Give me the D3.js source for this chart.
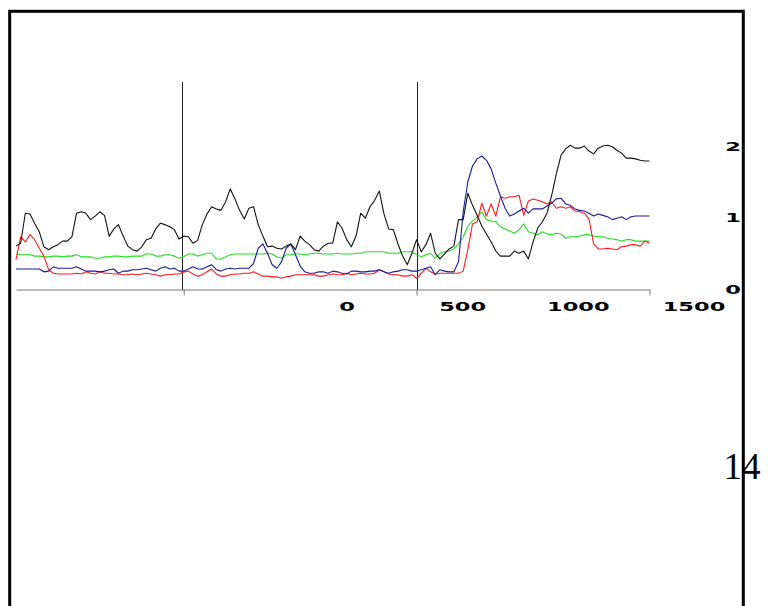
<!DOCTYPE html>
<html>
<head>
<meta charset="utf-8">
<script src="https://cdn.jsdelivr.net/npm/d3@7/dist/d3.min.js"></script>
<style>
  html, body { margin: 0; padding: 0; background: #fff; }
  svg { display: block; }
</style>
</head>
<body>
<svg id="chart" width="768" height="606"></svg>
<script>
// ---- data ----
const xStart = 140, xStep = 10;           // sample grid (time units)
const blackSeries = [0.60,0.64,1.06,1.05,0.92,0.80,0.59,0.55,0.59,0.62,0.67,0.67,0.73,1.06,1.08,1.06,0.97,1.02,1.08,1.03,
  0.74,0.84,0.90,0.74,0.60,0.55,0.53,0.59,0.69,0.71,0.84,0.92,0.90,0.87,0.83,0.70,0.74,0.73,0.64,0.68,
  0.90,1.05,1.15,1.12,1.10,1.22,1.40,1.26,1.10,0.98,1.13,1.15,0.90,0.74,0.59,0.60,0.57,0.56,0.60,0.63,
  0.55,0.74,0.67,0.62,0.55,0.53,0.60,0.64,0.64,0.94,0.85,0.69,0.59,0.74,1.06,0.99,1.15,1.24,1.37,1.05,
  0.84,0.83,0.63,0.46,0.34,0.50,0.69,0.52,0.62,0.78,0.50,0.42,0.49,0.56,0.60,0.97,0.97,1.34,1.17,1.03,
  0.88,0.77,0.66,0.53,0.46,0.46,0.46,0.53,0.50,0.53,0.42,0.66,0.85,0.94,1.06,1.31,1.61,1.87,1.96,2.01,
  1.97,1.97,2.00,1.93,1.89,1.97,2.00,2.01,1.99,1.94,1.90,1.83,1.83,1.82,1.80,1.79,1.79];
const redSeries = [0.41,0.73,0.66,0.76,0.69,0.57,0.46,0.27,0.22,0.21,0.21,0.21,0.21,0.22,0.21,0.24,0.22,0.21,0.24,0.22,
  0.22,0.21,0.21,0.20,0.20,0.21,0.20,0.21,0.22,0.21,0.20,0.18,0.20,0.20,0.21,0.21,0.24,0.25,0.21,0.18,
  0.20,0.24,0.28,0.21,0.18,0.18,0.20,0.21,0.21,0.22,0.22,0.24,0.21,0.18,0.18,0.17,0.17,0.15,0.17,0.18,
  0.20,0.20,0.20,0.20,0.20,0.18,0.18,0.20,0.21,0.20,0.20,0.22,0.20,0.21,0.22,0.21,0.21,0.22,0.27,0.24,
  0.21,0.20,0.20,0.18,0.18,0.20,0.15,0.22,0.29,0.24,0.21,0.22,0.22,0.22,0.22,0.22,0.25,0.55,0.91,0.94,
  1.20,1.02,1.19,1.02,1.29,1.27,1.29,1.29,1.31,1.03,1.23,1.26,1.24,1.22,1.19,1.22,1.13,1.15,1.13,1.15,
  1.09,1.08,1.06,0.98,0.63,0.56,0.56,0.57,0.56,0.55,0.59,0.60,0.62,0.62,0.60,0.67,0.64];
const blueSeries = [0.28,0.28,0.28,0.28,0.28,0.28,0.24,0.25,0.31,0.29,0.29,0.29,0.29,0.31,0.28,0.25,0.25,0.25,0.24,0.25,
  0.27,0.28,0.22,0.25,0.25,0.27,0.27,0.28,0.29,0.27,0.25,0.29,0.31,0.28,0.29,0.25,0.25,0.28,0.31,0.28,
  0.28,0.31,0.34,0.27,0.25,0.28,0.29,0.28,0.29,0.29,0.29,0.36,0.57,0.63,0.50,0.34,0.29,0.38,0.57,0.63,
  0.48,0.32,0.24,0.22,0.22,0.24,0.24,0.22,0.25,0.24,0.22,0.21,0.25,0.25,0.24,0.24,0.25,0.25,0.27,0.24,
  0.22,0.24,0.25,0.27,0.27,0.25,0.25,0.27,0.29,0.31,0.20,0.27,0.25,0.24,0.24,0.38,1.08,1.50,1.72,1.82,
  1.86,1.80,1.68,1.48,1.30,1.13,1.02,1.05,1.09,1.13,1.06,1.12,1.12,1.12,1.16,1.20,1.26,1.27,1.19,1.17,
  1.12,1.10,1.09,1.06,1.02,1.05,1.03,1.01,0.97,0.99,1.01,0.97,1.01,1.02,1.02,1.02,1.02];
const greenSeries = [0.49,0.48,0.48,0.48,0.46,0.46,0.45,0.45,0.46,0.46,0.45,0.46,0.46,0.48,0.45,0.45,0.45,0.43,0.43,0.45,
  0.45,0.46,0.46,0.45,0.45,0.46,0.46,0.46,0.49,0.49,0.46,0.46,0.48,0.48,0.46,0.43,0.45,0.49,0.49,0.46,
  0.48,0.50,0.50,0.42,0.42,0.45,0.48,0.49,0.49,0.49,0.49,0.49,0.49,0.49,0.50,0.49,0.45,0.43,0.48,0.48,
  0.49,0.49,0.48,0.49,0.50,0.50,0.49,0.49,0.49,0.50,0.49,0.49,0.49,0.50,0.50,0.52,0.52,0.52,0.52,0.52,
  0.50,0.50,0.50,0.52,0.52,0.52,0.48,0.45,0.48,0.50,0.43,0.50,0.52,0.53,0.56,0.63,0.73,0.88,0.95,1.01,
  1.08,0.97,0.95,0.94,0.87,0.84,0.81,0.78,0.83,0.91,0.80,0.78,0.76,0.80,0.77,0.76,0.78,0.77,0.71,0.73,
  0.73,0.74,0.76,0.76,0.74,0.73,0.73,0.71,0.70,0.69,0.67,0.69,0.69,0.67,0.67,0.67,0.67];
const xTickValues = [500, 1000, 1500];
const markerValues = [497, 1000];
const xTickLabels = ["0", "500", "1000", "1500"];
const yTickValues = [0, 1, 2];
const pageNumber = "14";

// ---- drawing ----
const svg = d3.select("#chart");
const x = d3.scaleLinear().domain([140, 1500]).range([16, 649.5]);
const y = d3.scaleLinear().domain([0, 2]).range([289, 146]);
const labelX = d3.scaleLinear().domain([0, 1500]).range([347, 694]);

const xs = blackSeries.map((_, i) => xStart + i * xStep);

// page number (under the frame)
svg.append("text")
  .attr("x", 723.5).attr("y", 478.5)
  .attr("font-family", "'Liberation Serif', 'Times New Roman', serif")
  .attr("font-size", 37).attr("fill", "#000")
  .text(pageNumber);

// vertical marker lines
svg.selectAll("line.marker").data(markerValues).enter().append("line")
  .attr("class", "marker")
  .attr("x1", d => Math.round(x(d)) + 0.5).attr("x2", d => Math.round(x(d)) + 0.5)
  .attr("y1", 82).attr("y2", 290)
  .attr("stroke", "#222").attr("stroke-width", 1);

// x axis
const xAxis = d3.axisBottom(x).tickValues(xTickValues).tickSize(6).tickSizeOuter(0).tickFormat("");
const gx = svg.append("g").attr("transform", "translate(0,289.5)").call(xAxis);
gx.select(".domain").attr("stroke", "#777");
gx.selectAll(".tick line").attr("stroke", "#777");

// series
const line = d3.line().x((d, i) => x(xs[i])).y(d => y(d)).curve(d3.curveLinear);
const series = [
  { values: greenSeries, color: "#1fe01f" },
  { values: redSeries, color: "#ff1a1a" },
  { values: blueSeries, color: "#1a1a96" },
  { values: blackSeries, color: "#111" }
];
svg.selectAll("path.series").data(series).enter().append("path")
  .attr("class", "series")
  .attr("d", d => line(d.values))
  .attr("fill", "none")
  .attr("stroke", d => d.color)
  .attr("stroke-width", 1.1)
  .attr("stroke-linejoin", "round");

// x tick labels (wide bold)
svg.selectAll("text.xl").data(xTickLabels).enter().append("text")
  .attr("class", "xl")
  .attr("transform", d => `translate(${labelX(+d)},311) scale(1.8,1)`)
  .attr("text-anchor", "middle")
  .attr("font-family", "'DejaVu Sans', sans-serif")
  .attr("font-weight", "bold")
  .attr("font-size", 12.5)
  .attr("fill", "#000")
  .text(d => d);

// y tick labels
svg.selectAll("text.yl").data(yTickValues).enter().append("text")
  .attr("class", "yl")
  .attr("transform", d => `translate(733,${y(d) + 4.5}) scale(1.8,1)`)
  .attr("text-anchor", "middle")
  .attr("font-family", "'DejaVu Sans', sans-serif")
  .attr("font-weight", "bold")
  .attr("font-size", 12.5)
  .attr("fill", "#000")
  .text(d => d);

// frame
svg.append("rect")
  .attr("x", 9.7).attr("y", 11.3).attr("width", 733.6).attr("height", 700)
  .attr("fill", "none").attr("stroke", "#000").attr("stroke-width", 3);
</script>
</body>
</html>
